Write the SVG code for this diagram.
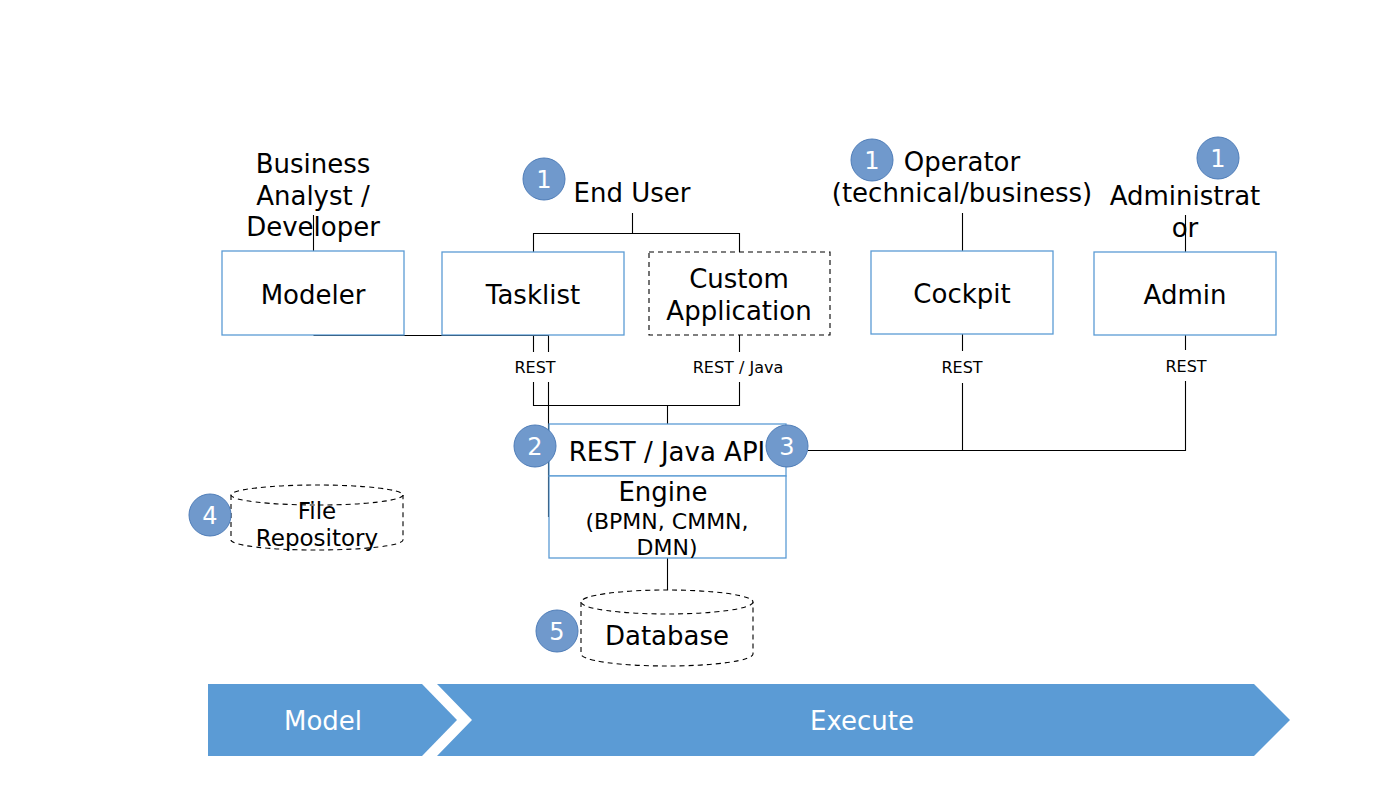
<svg xmlns="http://www.w3.org/2000/svg" width="1400" height="788" viewBox="0 0 1400 788">
<style>
text{font-family:"DejaVu Sans","Liberation Sans",sans-serif;fill:#000;text-anchor:middle}
.t{font-size:26px}
.s{font-size:16px}
.box{fill:#fff;stroke:#5B9BD5;stroke-width:1.3}
.dbox{fill:#fff;stroke:#000;stroke-width:1.1;stroke-dasharray:5,4}
.ln{fill:none;stroke:#000;stroke-width:1.1}
.badge circle{fill:#7099CC;stroke:#4F7DB8;stroke-width:1}
.badge text{fill:#fff;font-size:24px}
.arr{fill:#5B9BD5}
.w{fill:#fff;font-size:26px}
</style>
<rect width="1400" height="788" fill="#fff"/>
<g id="connectors">
<path class="ln" d="M313.5,215V251"/>
<path class="ln" d="M313.5,335.5H548.5"/>
<path class="ln" d="M548.5,335V352M548.5,382V517"/>
<path class="ln" d="M533.5,335V352M533.5,382V405.5H739.5V382M739.5,352V335"/>
<path class="ln" d="M667.5,405V424"/>
<path class="ln" d="M632.5,213V233.5M533.5,252V233.5H739.5V252"/>
<path class="ln" d="M962.5,213V251"/>
<path class="ln" d="M962.5,334V351M962.5,383V450.5M808,450.5H1185.5V381M1185.5,350V335"/>
<path class="ln" d="M1185.5,215V252"/>
<path class="ln" d="M667.5,558V590"/>
</g>
<g id="actor-business">
<text class="t" x="313" y="173">Business</text>
<text class="t" x="313" y="205">Analyst /</text>
<text class="t" x="313" y="236">Developer</text>
</g>
<g id="actor-enduser">
<text class="t" x="632" y="202">End User</text>
</g>
<g id="actor-operator">
<text class="t" x="962" y="171">Operator</text>
<text class="t" x="962" y="202">(technical/business)</text>
</g>
<g id="actor-admin">
<text class="t" x="1185" y="205">Administrat</text>
<text class="t" x="1185" y="237">or</text>
</g>
<g id="modeler"><rect class="box" x="222" y="251" width="182" height="84"/><text class="t" x="313" y="304">Modeler</text></g>
<g id="tasklist"><rect class="box" x="442" y="252" width="182" height="83"/><text class="t" x="533" y="304">Tasklist</text></g>
<g id="custom-app"><rect class="dbox" x="649" y="252" width="181" height="83"/><text class="t" x="739" y="288">Custom</text><text class="t" x="739" y="320">Application</text></g>
<g id="cockpit"><rect class="box" x="871" y="251" width="182" height="83"/><text class="t" x="962" y="303">Cockpit</text></g>
<g id="admin"><rect class="box" x="1094" y="252" width="182" height="83"/><text class="t" x="1185" y="304">Admin</text></g>
<g id="labels">
<text class="s" x="535" y="373">REST</text>
<text class="s" x="738" y="373">REST / Java</text>
<text class="s" x="962" y="373">REST</text>
<text class="s" x="1186" y="372">REST</text>
</g>
<g id="api"><rect class="box" x="549" y="424" width="237" height="52"/><text class="t" x="667" y="461">REST / Java API</text></g>
<g id="engine"><rect class="box" x="549" y="476" width="237" height="82"/><text class="t" x="663" y="501">Engine</text><text x="667" y="529" font-size="22">(BPMN, CMMN,</text><text x="667" y="555" font-size="22">DMN)</text></g>
<g id="file-repo">
<path class="dbox" d="M231,495V540A86,10 0 0 0 403,540V495"/>
<ellipse class="dbox" cx="317" cy="495" rx="86" ry="10"/>
<text x="317" y="519" font-size="23">File</text>
<text x="317" y="546" font-size="23">Repository</text>
</g>
<g id="database">
<path class="dbox" d="M581,602V654A86,12 0 0 0 753,654V602"/>
<ellipse class="dbox" cx="667" cy="602" rx="86" ry="12"/>
<text class="t" x="667" y="645">Database</text>
</g>
<g id="badges">
<g class="badge"><circle cx="544" cy="179" r="21"/><text x="544" y="188">1</text></g>
<g class="badge"><circle cx="872" cy="160" r="21"/><text x="872" y="169">1</text></g>
<g class="badge"><circle cx="1218" cy="158" r="21"/><text x="1218" y="167">1</text></g>
<g class="badge"><circle cx="535" cy="446" r="21"/><text x="535" y="455">2</text></g>
<g class="badge"><circle cx="787" cy="446" r="21"/><text x="787" y="455">3</text></g>
<g class="badge"><circle cx="210" cy="515" r="21"/><text x="210" y="524">4</text></g>
<g class="badge"><circle cx="557" cy="631" r="21"/><text x="557" y="640">5</text></g>
</g>
<g id="phase-model"><polygon class="arr" points="208,684 422,684 457,720 422,756 208,756"/><text class="w" x="323" y="730">Model</text></g>
<g id="phase-execute"><polygon class="arr" points="437,684 1254,684 1290,720 1254,756 437,756 472,720"/><text class="w" x="862" y="730">Execute</text></g>
</svg>
